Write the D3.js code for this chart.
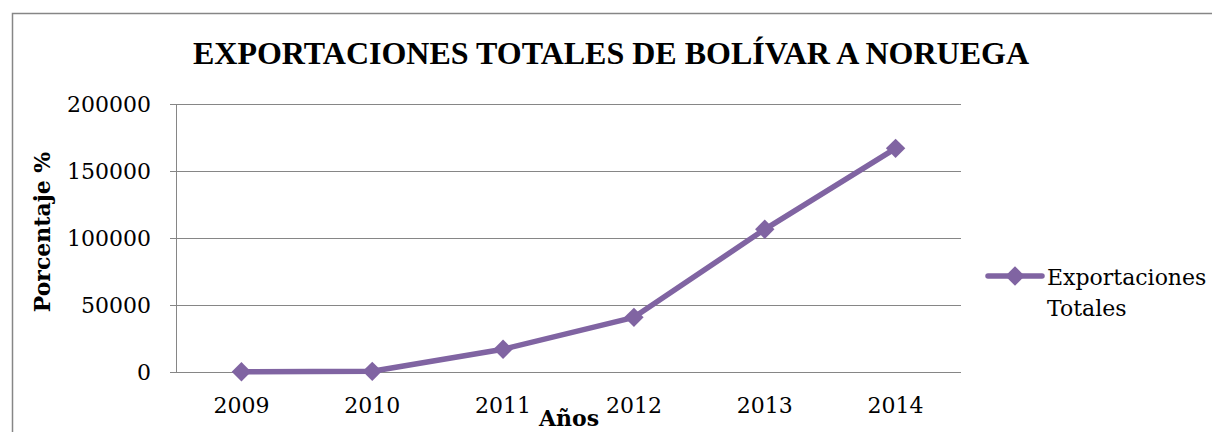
<!DOCTYPE html>
<html lang="es">
<head>
  <meta charset="utf-8" />
  <title>Exportaciones totales de Bolívar a Noruega</title>
  <style>
    body { margin: 0; background: #fff; }
    svg { display: block; }
  </style>
</head>
<body>
<script src="https://cdn.jsdelivr.net/npm/d3@7"></script>
<script>
  // data
  const years = ["2009", "2010", "2011", "2012", "2013", "2014"];
  const exportaciones = [200, 500, 17000, 40800, 106500, 166900];
  const yTicks = [0, 50000, 100000, 150000, 200000];

  const purple = "#8064a2";
  const grey = "#868686";
  const serif = "'DejaVu Serif', serif";

  const W = 1212, H = 432;
  const margin = {left: 176, right: 251, top: 104, bottom: 60};
  const width = W - margin.left - margin.right;
  const height = H - margin.top - margin.bottom;

  const svg = d3.select("body").append("svg")
      .attr("width", W)
      .attr("height", H);

  // outer chart border (runs off the right and bottom edge)
  svg.append("rect")
      .attr("x", 12.5).attr("y", 13.5)
      .attr("width", W).attr("height", H)
      .attr("fill", "none")
      .attr("stroke", grey)
      .attr("stroke-width", 1.5);

  svg.append("text")
      .attr("x", 611).attr("y", 64)
      .attr("text-anchor", "middle")
      .attr("font-family", "'Liberation Serif', 'Times New Roman', serif")
      .attr("font-weight", "bold")
      .attr("font-size", 32)
      .text("EXPORTACIONES TOTALES DE BOLÍVAR A NORUEGA");

  const plot = svg.append("g")
      .attr("transform", `translate(${margin.left},${margin.top})`);

  const x = d3.scaleBand(years, [0, width]);
  const y = d3.scaleLinear([0, 200000], [height, 0]);

  // gridlines
  plot.append("g")
      .selectAll("line")
      .data(yTicks)
      .join("line")
      .attr("x1", -6).attr("x2", width)
      .attr("y1", d => Math.round(y(d)) + 0.5)
      .attr("y2", d => Math.round(y(d)) + 0.5)
      .attr("stroke", grey);

  plot.append("line")
      .attr("x1", 0.5).attr("x2", 0.5)
      .attr("y1", 0).attr("y2", height)
      .attr("stroke", grey);

  const yAxisG = plot.append("g")
      .call(d3.axisLeft(y).tickValues(yTicks).tickSize(0).tickPadding(25).tickFormat(d3.format("d")));
  yAxisG.select(".domain").remove();
  yAxisG.selectAll("text")
      .attr("font-family", serif)
      .attr("font-size", 22)
      .attr("fill", "#000");

  const xAxisG = plot.append("g")
      .attr("transform", `translate(0,${height})`)
      .call(d3.axisBottom(x).tickSize(0).tickPadding(25));
  xAxisG.select(".domain").remove();
  xAxisG.selectAll("text")
      .attr("font-family", serif)
      .attr("font-size", 22)
      .attr("fill", "#000");

  // axis titles
  svg.append("text")
      .attr("transform", "translate(50,232) rotate(-90)")
      .attr("text-anchor", "middle")
      .attr("font-family", serif)
      .attr("font-weight", "bold")
      .attr("font-size", 22)
      .text("Porcentaje %");

  svg.append("text")
      .attr("x", 569).attr("y", 426)
      .attr("text-anchor", "middle")
      .attr("font-family", serif)
      .attr("font-weight", "bold")
      .attr("font-size", 22)
      .text("Años");

  // series
  const pts = years.map((yr, i) => [x(yr) + x.bandwidth() / 2, y(exportaciones[i])]);

  plot.append("path")
      .attr("d", d3.line()(pts))
      .attr("fill", "none")
      .attr("stroke", purple)
      .attr("stroke-width", 5.5)
      .attr("stroke-linejoin", "round");

  const diamond = d3.symbol(d3.symbolDiamond2, 240)();
  plot.append("g")
      .selectAll("path")
      .data(pts)
      .join("path")
      .attr("transform", d => `translate(${d[0]},${d[1]})`)
      .attr("d", diamond)
      .attr("fill", purple);

  // legend
  const lg = svg.append("g").attr("transform", "translate(988,276)");
  lg.append("line")
      .attr("x1", 0).attr("x2", 54)
      .attr("stroke", purple)
      .attr("stroke-width", 5.5)
      .attr("stroke-linecap", "round");
  lg.append("path")
      .attr("transform", "translate(27,0)")
      .attr("d", diamond)
      .attr("fill", purple);
  lg.append("text")
      .attr("x", 59).attr("y", 9)
      .attr("font-family", serif)
      .attr("font-size", 22)
      .text("Exportaciones");
  lg.append("text")
      .attr("x", 59).attr("y", 40)
      .attr("font-family", serif)
      .attr("font-size", 22)
      .text("Totales");
</script>
</body>
</html>
